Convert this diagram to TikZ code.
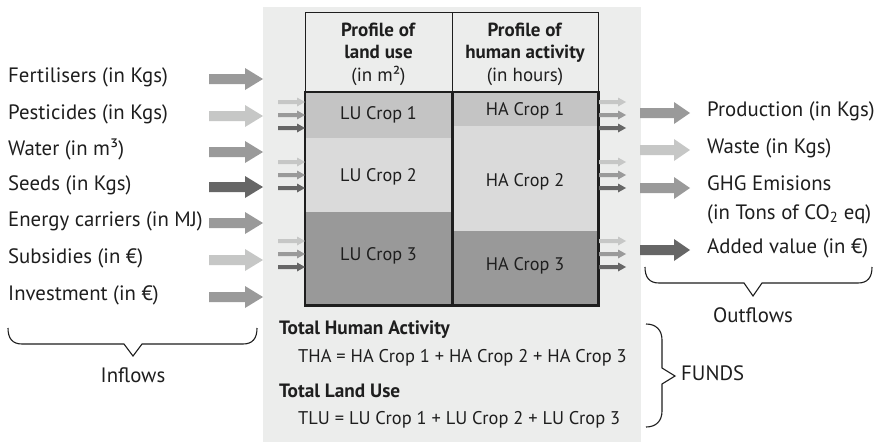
\documentclass[tikz,border=0pt]{standalone}
\usepackage{fontspec}
\setmainfont{PT Sans}
\definecolor{panel}{HTML}{ECEDEC}
\definecolor{aLight}{HTML}{C6C7C6}
\definecolor{aMid}{HTML}{9A9A9A}
\definecolor{aDark}{HTML}{666666}
\definecolor{rowA}{HTML}{C4C4C4}
\definecolor{rowB}{HTML}{DADADA}
\definecolor{rowC}{HTML}{999999}
\definecolor{ink}{HTML}{1E1E1E}
\begin{document}
\begin{tikzpicture}[x=1pt,y=-1pt,
  capmid/.style={text height=0.7em,text depth=0pt},
  lbl/.style={anchor=west,capmid,inner sep=0pt,text=ink,font=\fontsize{20.8}{24}\selectfont},
  celltxt/.style={capmid,inner sep=0pt,text=ink,font=\fontsize{18.2}{20}\selectfont},
  cellbox/.style={inner sep=0pt},
  head/.style={inner sep=0pt,text=ink,align=center,font=\fontsize{19}{22.5}\selectfont},
  sumtxt/.style={anchor=west,capmid,inner sep=0pt,text=ink,font=\fontsize{18.4}{22}\selectfont},
  sumhead/.style={sumtxt,font=\fontsize{19.3}{22}\selectfont\bfseries},
  bracepath/.style={draw=ink,line width=1.1pt,line join=miter},
  pics/inarrow/.style={code={\fill (0,-5) -- (36,-5) -- (36,-11) -- (54,0) -- (36,11) -- (36,5) -- (0,5) -- cycle;}},
  pics/outarrow/.style={code={\fill (0,-5) -- (34,-5) -- (34,-11) -- (50,0) -- (34,11) -- (34,5) -- (0,5) -- cycle;}},
  pics/tinyarrow/.style={code={\fill (0,-2) -- (19,-2) -- (19,-4.5) -- (27,0) -- (19,4.5) -- (19,2) -- (0,2) -- cycle;}}
]
\useasboundingbox (0,0) rectangle (878,442);
\fill[white] (0,0) rectangle (878,442);

% central panel
\fill[panel] (263,7) rectangle (641,442);

% header of the table
\node[draw=ink,line width=0.9pt,minimum width=147,minimum height=80,inner sep=0pt] (hLU) at (378.5,52) {};
\node[draw=ink,line width=0.9pt,minimum width=146,minimum height=80,inner sep=0pt] (hHA) at (525,52) {};
\node[head] (hLUt) at (378.5,54) {\textbf{Profile of}\\\textbf{land use}\\(in m²)};
\node[head] (hHAt) at (525,54) {\textbf{Profile of}\\\textbf{human activity}\\(in hours)};

% land use cells
\node[cellbox,fill=rowA,minimum width=147,minimum height=46] (lu1) at (378.5,115) {};
\node[cellbox,fill=rowB,minimum width=147,minimum height=74] (lu2) at (378.5,175) {};
\node[cellbox,fill=rowC,minimum width=147,minimum height=93] (lu3) at (378.5,258.5) {};
% human activity cells
\node[cellbox,fill=rowA,minimum width=146,minimum height=34] (ha1) at (525,109) {};
\node[cellbox,fill=rowB,minimum width=146,minimum height=105] (ha2) at (525,178.5) {};
\node[cellbox,fill=rowC,minimum width=146,minimum height=74] (ha3) at (525,268) {};
% cell captions
\node[celltxt] (lu1t) at (378.5,115.5) {LU Crop 1};
\node[celltxt] (lu2t) at (378.5,178) {LU Crop 2};
\node[celltxt] (lu3t) at (378.5,256.5) {LU Crop 3};
\node[celltxt] (ha1t) at (525,112) {HA Crop 1};
\node[celltxt] (ha2t) at (525,183) {HA Crop 2};
\node[celltxt] (ha3t) at (525,266.5) {HA Crop 3};
% body frame
\draw[ink,line width=2.6pt] (lu1.north west) rectangle (ha3.south east);
\draw[ink,line width=2.6pt] (lu1.north east) -- (lu3.south east);

% inflow labels and arrows
\node[lbl] (fert) at (8,79) {Fertilisers (in Kgs)};
\node[lbl] (pest) at (8,116) {Pesticides (in Kgs)};
\node[lbl] (water) at (8,152) {Water (in m³)};
\node[lbl] (seeds) at (8,187) {Seeds (in Kgs)};
\node[lbl] (energy) at (8,223) {Energy carriers (in MJ)};
\node[lbl] (subs) at (8,260) {Subsidies (in €)};
\node[lbl] (invest) at (8,297) {Investment (in €)};
\pic[fill=aMid] at (209,79) {inarrow};
\pic[fill=aLight] at (209,116) {inarrow};
\pic[fill=aMid] at (209,152) {inarrow};
\pic[fill=aDark] at (209,187) {inarrow};
\pic[fill=aMid] at (209,223) {inarrow};
\pic[fill=aLight] at (209,260) {inarrow};
\pic[fill=aMid] at (209,297) {inarrow};

% small arrows entering and leaving each crop
\foreach \y in {102,162,241}{
  \pic[fill=aLight] at (278,\y) {tinyarrow};
  \pic[fill=aMid] at (278,\y+13) {tinyarrow};
  \pic[fill=aDark] at (278,\y+26) {tinyarrow};
  \pic[fill=aLight] at (599,\y) {tinyarrow};
  \pic[fill=aMid] at (599,\y+13) {tinyarrow};
  \pic[fill=aDark] at (599,\y+26) {tinyarrow};
}

% outflow labels and arrows
\pic[fill=aMid] at (640,113) {outarrow};
\pic[fill=aLight] at (640,150) {outarrow};
\pic[fill=aMid] at (640,188) {outarrow};
\pic[fill=aDark] at (640,250) {outarrow};
\node[lbl] (prod) at (707,113) {Production (in Kgs)};
\node[lbl] (waste) at (707,150) {Waste (in Kgs)};
\node[lbl] (ghg) at (707,187) {GHG Emisions};
\node[lbl] (ghgu) at (707,216) {(in Tons of CO\textsubscript{2} eq)};
\node[lbl] (added) at (707,250) {Added value (in €)};

% braces
\draw[bracepath] (8,328) .. controls (8,338) and (12,344) .. (22,344) -- (124,344) -- (133,356) -- (142,344) -- (243,344) .. controls (253,344) and (257,338) .. (257,328);
\node[lbl,anchor=center] (inflows) at (133,379) {Inflows};
\draw[bracepath] (645,267) .. controls (645,277) and (649,283) .. (659,283) -- (744,283) -- (753,296) -- (762,283) -- (858,283) .. controls (868,283) and (872,277) .. (872,267);
\node[lbl,anchor=center] (outflows) at (753,319) {Outflows};
\draw[bracepath] (646,324) .. controls (656,324) and (662,330) .. (662,340) -- (662,368) -- (675,376) -- (662,384) -- (662,411) .. controls (662,421) and (656,427) .. (646,427);
\node[lbl] (funds) at (681,377) {FUNDS};

% fund totals
\node[sumhead] (tha) at (279,331) {Total Human Activity};
\node[sumtxt] (thaeq) at (298,359) {THA = HA Crop 1 + HA Crop 2 + HA Crop 3};
\node[sumhead] (tlu) at (279,394) {Total Land Use};
\node[sumtxt] (tlueq) at (298,421) {TLU = LU Crop 1 + LU Crop 2 + LU Crop 3};
\end{tikzpicture}
\end{document}
